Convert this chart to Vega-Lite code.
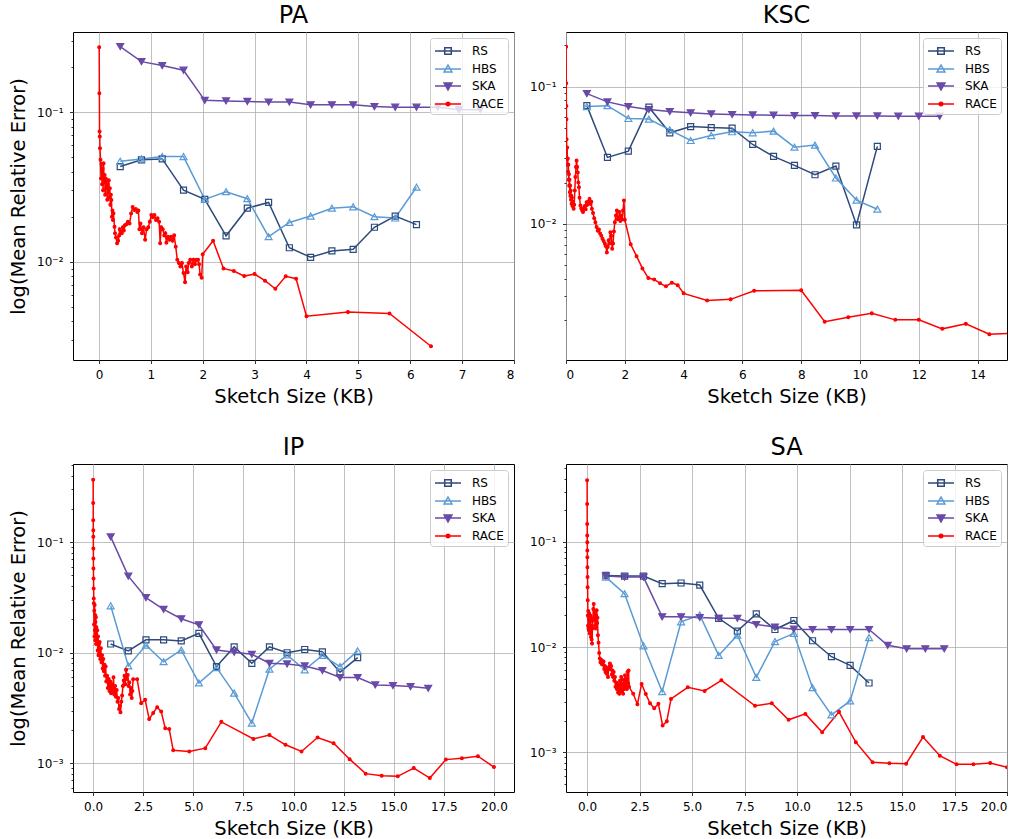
{
"$schema": "https://vega.github.io/schema/vega-lite/v6.json",
"background": "white",
"padding": {"left": 8, "top": 3, "right": 5, "bottom": 5},
"config": {
  "view": {"stroke": "black", "strokeWidth": 1},
  "font": "DejaVu Sans",
  "title": {"font": "DejaVu Sans", "fontSize": 24, "fontWeight": "normal", "color": "black", "baseline": "alphabetic", "offset": 4},
  "axis": {"labelFont": "DejaVu Sans", "labelFontSize": 12, "labelColor": "black", "titleFont": "DejaVu Sans", "titleFontSize": 19.5, "titleFontWeight": "normal", "titleColor": "black", "domain": false, "tickColor": "black", "tickWidth": 0.8, "tickSize": 3.5, "gridColor": "#b0b0b0", "gridWidth": 0.8, "grid": true},
  "axisX": {"labelPadding": 6, "titlePadding": 7},
  "axisY": {"labelPadding": 6.5, "titlePadding": 8},
  "legend": {"labelFont": "DejaVu Sans", "labelFontSize": 12, "labelColor": "black", "title": null, "orient": "none", "legendX": 357, "legendY": 6, "padding": 4, "fillColor": "rgba(255,255,255,0.8)", "strokeColor": "#cccccc", "cornerRadius": 3, "symbolSize": 256, "symbolStrokeWidth": 1.5, "symbolOpacity": 1, "rowPadding": 2, "labelOffset": 20}
},
"datasets": {"d": [
{"p":"PA","m":"RS","x":0.41,"y":0.0433},{"p":"PA","m":"RS","x":0.82,"y":0.048},{"p":"PA","m":"RS","x":1.22,"y":0.0487},{"p":"PA","m":"RS","x":1.63,"y":0.0301},{"p":"PA","m":"RS","x":2.04,"y":0.0261},{"p":"PA","m":"RS","x":2.45,"y":0.0149},{"p":"PA","m":"RS","x":2.86,"y":0.0228},{"p":"PA","m":"RS","x":3.27,"y":0.0249},{"p":"PA","m":"RS","x":3.67,"y":0.0124},{"p":"PA","m":"RS","x":4.08,"y":0.0107},{"p":"PA","m":"RS","x":4.49,"y":0.0118},{"p":"PA","m":"RS","x":4.90,"y":0.0121},{"p":"PA","m":"RS","x":5.31,"y":0.0170},{"p":"PA","m":"RS","x":5.71,"y":0.0202},{"p":"PA","m":"RS","x":6.12,"y":0.0177},
{"p":"PA","m":"HBS","x":0.41,"y":0.047},{"p":"PA","m":"HBS","x":0.82,"y":0.0487},{"p":"PA","m":"HBS","x":1.22,"y":0.0505},{"p":"PA","m":"HBS","x":1.63,"y":0.0505},{"p":"PA","m":"HBS","x":2.04,"y":0.0261},{"p":"PA","m":"HBS","x":2.45,"y":0.0294},{"p":"PA","m":"HBS","x":2.86,"y":0.0264},{"p":"PA","m":"HBS","x":3.27,"y":0.0147},{"p":"PA","m":"HBS","x":3.67,"y":0.0183},{"p":"PA","m":"HBS","x":4.08,"y":0.0202},{"p":"PA","m":"HBS","x":4.49,"y":0.0228},{"p":"PA","m":"HBS","x":4.90,"y":0.0233},{"p":"PA","m":"HBS","x":5.31,"y":0.0200},{"p":"PA","m":"HBS","x":5.71,"y":0.0196},{"p":"PA","m":"HBS","x":6.12,"y":0.0315},
{"p":"PA","m":"SKA","x":0.41,"y":0.275},{"p":"PA","m":"SKA","x":0.82,"y":0.218},{"p":"PA","m":"SKA","x":1.22,"y":0.205},{"p":"PA","m":"SKA","x":1.63,"y":0.191},{"p":"PA","m":"SKA","x":2.04,"y":0.120},{"p":"PA","m":"SKA","x":2.45,"y":0.119},{"p":"PA","m":"SKA","x":2.86,"y":0.118},{"p":"PA","m":"SKA","x":3.27,"y":0.117},{"p":"PA","m":"SKA","x":3.67,"y":0.117},{"p":"PA","m":"SKA","x":4.08,"y":0.112},{"p":"PA","m":"SKA","x":4.49,"y":0.112},{"p":"PA","m":"SKA","x":4.90,"y":0.112},{"p":"PA","m":"SKA","x":5.31,"y":0.109},{"p":"PA","m":"SKA","x":5.71,"y":0.108},{"p":"PA","m":"SKA","x":6.12,"y":0.108},{"p":"PA","m":"SKA","x":6.53,"y":0.108},{"p":"PA","m":"SKA","x":6.94,"y":0.104},{"p":"PA","m":"SKA","x":7.35,"y":0.104},
{"p":"PA","m":"RACE","x":0.005,"y":0.272},{"p":"PA","m":"RACE","x":0.008,"y":0.134},{"p":"PA","m":"RACE","x":0.012,"y":0.0743},{"p":"PA","m":"RACE","x":0.016,"y":0.0687},{"p":"PA","m":"RACE","x":0.02,"y":0.0574},{"p":"PA","m":"RACE","x":0.03,"y":0.048},{"p":"PA","m":"RACE","x":0.04,"y":0.036},{"p":"PA","m":"RACE","x":0.05,"y":0.045},{"p":"PA","m":"RACE","x":0.06,"y":0.033},{"p":"PA","m":"RACE","x":0.07,"y":0.042},{"p":"PA","m":"RACE","x":0.08,"y":0.030},{"p":"PA","m":"RACE","x":0.09,"y":0.0455},{"p":"PA","m":"RACE","x":0.10,"y":0.034},{"p":"PA","m":"RACE","x":0.11,"y":0.038},{"p":"PA","m":"RACE","x":0.12,"y":0.028},{"p":"PA","m":"RACE","x":0.13,"y":0.036},{"p":"PA","m":"RACE","x":0.14,"y":0.031},{"p":"PA","m":"RACE","x":0.15,"y":0.0352},{"p":"PA","m":"RACE","x":0.16,"y":0.026},{"p":"PA","m":"RACE","x":0.17,"y":0.033},{"p":"PA","m":"RACE","x":0.18,"y":0.029},{"p":"PA","m":"RACE","x":0.19,"y":0.035},{"p":"PA","m":"RACE","x":0.20,"y":0.027},{"p":"PA","m":"RACE","x":0.21,"y":0.031},{"p":"PA","m":"RACE","x":0.22,"y":0.024},{"p":"PA","m":"RACE","x":0.23,"y":0.028},{"p":"PA","m":"RACE","x":0.24,"y":0.0259},{"p":"PA","m":"RACE","x":0.25,"y":0.020},{"p":"PA","m":"RACE","x":0.26,"y":0.022},{"p":"PA","m":"RACE","x":0.27,"y":0.019},{"p":"PA","m":"RACE","x":0.28,"y":0.0211},{"p":"PA","m":"RACE","x":0.30,"y":0.0171},{"p":"PA","m":"RACE","x":0.31,"y":0.0155},{"p":"PA","m":"RACE","x":0.33,"y":0.0145},{"p":"PA","m":"RACE","x":0.35,"y":0.0133},{"p":"PA","m":"RACE","x":0.37,"y":0.0138},{"p":"PA","m":"RACE","x":0.39,"y":0.015},{"p":"PA","m":"RACE","x":0.40,"y":0.0165},{"p":"PA","m":"RACE","x":0.42,"y":0.016},{"p":"PA","m":"RACE","x":0.44,"y":0.0155},{"p":"PA","m":"RACE","x":0.46,"y":0.017},{"p":"PA","m":"RACE","x":0.48,"y":0.0162},{"p":"PA","m":"RACE","x":0.50,"y":0.0175},{"p":"PA","m":"RACE","x":0.53,"y":0.0178},{"p":"PA","m":"RACE","x":0.56,"y":0.0185},{"p":"PA","m":"RACE","x":0.59,"y":0.018},{"p":"PA","m":"RACE","x":0.62,"y":0.021},{"p":"PA","m":"RACE","x":0.65,"y":0.0232},{"p":"PA","m":"RACE","x":0.68,"y":0.0222},{"p":"PA","m":"RACE","x":0.71,"y":0.0225},{"p":"PA","m":"RACE","x":0.74,"y":0.0215},{"p":"PA","m":"RACE","x":0.76,"y":0.022},{"p":"PA","m":"RACE","x":0.78,"y":0.0165},{"p":"PA","m":"RACE","x":0.80,"y":0.018},{"p":"PA","m":"RACE","x":0.83,"y":0.0155},{"p":"PA","m":"RACE","x":0.86,"y":0.017},{"p":"PA","m":"RACE","x":0.89,"y":0.014},{"p":"PA","m":"RACE","x":0.92,"y":0.0165},{"p":"PA","m":"RACE","x":0.95,"y":0.017},{"p":"PA","m":"RACE","x":0.98,"y":0.0185},{"p":"PA","m":"RACE","x":1.01,"y":0.0205},{"p":"PA","m":"RACE","x":1.04,"y":0.0198},{"p":"PA","m":"RACE","x":1.07,"y":0.0205},{"p":"PA","m":"RACE","x":1.10,"y":0.019},{"p":"PA","m":"RACE","x":1.13,"y":0.0195},{"p":"PA","m":"RACE","x":1.16,"y":0.0185},{"p":"PA","m":"RACE","x":1.18,"y":0.0133},{"p":"PA","m":"RACE","x":1.20,"y":0.017},{"p":"PA","m":"RACE","x":1.23,"y":0.0165},{"p":"PA","m":"RACE","x":1.26,"y":0.015},{"p":"PA","m":"RACE","x":1.28,"y":0.0155},{"p":"PA","m":"RACE","x":1.30,"y":0.0134},{"p":"PA","m":"RACE","x":1.33,"y":0.0147},{"p":"PA","m":"RACE","x":1.36,"y":0.014},{"p":"PA","m":"RACE","x":1.39,"y":0.0147},{"p":"PA","m":"RACE","x":1.42,"y":0.0138},{"p":"PA","m":"RACE","x":1.45,"y":0.015},{"p":"PA","m":"RACE","x":1.48,"y":0.0126},{"p":"PA","m":"RACE","x":1.51,"y":0.0103},{"p":"PA","m":"RACE","x":1.54,"y":0.0098},{"p":"PA","m":"RACE","x":1.57,"y":0.0093},{"p":"PA","m":"RACE","x":1.60,"y":0.0098},{"p":"PA","m":"RACE","x":1.63,"y":0.0084},{"p":"PA","m":"RACE","x":1.66,"y":0.0073},{"p":"PA","m":"RACE","x":1.68,"y":0.0093},{"p":"PA","m":"RACE","x":1.71,"y":0.0085},{"p":"PA","m":"RACE","x":1.73,"y":0.0098},{"p":"PA","m":"RACE","x":1.76,"y":0.0103},{"p":"PA","m":"RACE","x":1.79,"y":0.0093},{"p":"PA","m":"RACE","x":1.82,"y":0.0103},{"p":"PA","m":"RACE","x":1.85,"y":0.0096},{"p":"PA","m":"RACE","x":1.88,"y":0.0103},{"p":"PA","m":"RACE","x":1.91,"y":0.0103},{"p":"PA","m":"RACE","x":1.93,"y":0.0096},{"p":"PA","m":"RACE","x":1.95,"y":0.0082},{"p":"PA","m":"RACE","x":1.98,"y":0.0078},{"p":"PA","m":"RACE","x":2.0,"y":0.0112},{"p":"PA","m":"RACE","x":2.2,"y":0.0138},{"p":"PA","m":"RACE","x":2.4,"y":0.00902},{"p":"PA","m":"RACE","x":2.6,"y":0.00866},{"p":"PA","m":"RACE","x":2.8,"y":0.00801},{"p":"PA","m":"RACE","x":3.0,"y":0.00827},{"p":"PA","m":"RACE","x":3.2,"y":0.00746},{"p":"PA","m":"RACE","x":3.4,"y":0.00659},{"p":"PA","m":"RACE","x":3.6,"y":0.00798},{"p":"PA","m":"RACE","x":3.8,"y":0.00769},{"p":"PA","m":"RACE","x":4.0,"y":0.00432},{"p":"PA","m":"RACE","x":4.8,"y":0.0046},{"p":"PA","m":"RACE","x":5.6,"y":0.00451},{"p":"PA","m":"RACE","x":6.4,"y":0.00272},
{"p":"KSC","m":"RS","x":0.71,"y":0.0727},{"p":"KSC","m":"RS","x":1.41,"y":0.0305},{"p":"KSC","m":"RS","x":2.12,"y":0.0339},{"p":"KSC","m":"RS","x":2.82,"y":0.0708},{"p":"KSC","m":"RS","x":3.53,"y":0.0461},{"p":"KSC","m":"RS","x":4.24,"y":0.0512},{"p":"KSC","m":"RS","x":4.94,"y":0.0503},{"p":"KSC","m":"RS","x":5.65,"y":0.0498},{"p":"KSC","m":"RS","x":6.35,"y":0.0379},{"p":"KSC","m":"RS","x":7.06,"y":0.0310},{"p":"KSC","m":"RS","x":7.77,"y":0.0267},{"p":"KSC","m":"RS","x":8.47,"y":0.0228},{"p":"KSC","m":"RS","x":9.18,"y":0.0264},{"p":"KSC","m":"RS","x":9.88,"y":0.00985},{"p":"KSC","m":"RS","x":10.59,"y":0.0367},
{"p":"KSC","m":"HBS","x":0.71,"y":0.0716},{"p":"KSC","m":"HBS","x":1.41,"y":0.0727},{"p":"KSC","m":"HBS","x":2.12,"y":0.0586},{"p":"KSC","m":"HBS","x":2.82,"y":0.058},{"p":"KSC","m":"HBS","x":3.53,"y":0.0484},{"p":"KSC","m":"HBS","x":4.24,"y":0.0405},{"p":"KSC","m":"HBS","x":4.94,"y":0.044},{"p":"KSC","m":"HBS","x":5.65,"y":0.0469},{"p":"KSC","m":"HBS","x":6.35,"y":0.0461},{"p":"KSC","m":"HBS","x":7.06,"y":0.0474},{"p":"KSC","m":"HBS","x":7.77,"y":0.0362},{"p":"KSC","m":"HBS","x":8.47,"y":0.0375},{"p":"KSC","m":"HBS","x":9.18,"y":0.0216},{"p":"KSC","m":"HBS","x":9.88,"y":0.0149},{"p":"KSC","m":"HBS","x":10.59,"y":0.0128},
{"p":"KSC","m":"SKA","x":0.71,"y":0.0889},{"p":"KSC","m":"SKA","x":1.41,"y":0.0774},{"p":"KSC","m":"SKA","x":2.12,"y":0.0716},{"p":"KSC","m":"SKA","x":2.82,"y":0.0681},{"p":"KSC","m":"SKA","x":3.53,"y":0.0658},{"p":"KSC","m":"SKA","x":4.24,"y":0.0644},{"p":"KSC","m":"SKA","x":4.94,"y":0.0633},{"p":"KSC","m":"SKA","x":5.65,"y":0.0626},{"p":"KSC","m":"SKA","x":6.35,"y":0.0622},{"p":"KSC","m":"SKA","x":7.06,"y":0.0619},{"p":"KSC","m":"SKA","x":7.77,"y":0.0615},{"p":"KSC","m":"SKA","x":8.47,"y":0.0615},{"p":"KSC","m":"SKA","x":9.18,"y":0.0612},{"p":"KSC","m":"SKA","x":9.88,"y":0.0612},{"p":"KSC","m":"SKA","x":10.59,"y":0.0612},{"p":"KSC","m":"SKA","x":11.30,"y":0.0609},{"p":"KSC","m":"SKA","x":12.0,"y":0.0609},{"p":"KSC","m":"SKA","x":12.71,"y":0.0609},
{"p":"KSC","m":"RACE","x":0.005,"y":0.195},{"p":"KSC","m":"RACE","x":0.008,"y":0.106},{"p":"KSC","m":"RACE","x":0.012,"y":0.0723},{"p":"KSC","m":"RACE","x":0.016,"y":0.0578},{"p":"KSC","m":"RACE","x":0.02,"y":0.0414},{"p":"KSC","m":"RACE","x":0.03,"y":0.0296},{"p":"KSC","m":"RACE","x":0.04,"y":0.036},{"p":"KSC","m":"RACE","x":0.05,"y":0.027},{"p":"KSC","m":"RACE","x":0.06,"y":0.030},{"p":"KSC","m":"RACE","x":0.07,"y":0.024},{"p":"KSC","m":"RACE","x":0.08,"y":0.027},{"p":"KSC","m":"RACE","x":0.09,"y":0.021},{"p":"KSC","m":"RACE","x":0.10,"y":0.023},{"p":"KSC","m":"RACE","x":0.11,"y":0.019},{"p":"KSC","m":"RACE","x":0.12,"y":0.021},{"p":"KSC","m":"RACE","x":0.13,"y":0.017},{"p":"KSC","m":"RACE","x":0.14,"y":0.019},{"p":"KSC","m":"RACE","x":0.15,"y":0.016},{"p":"KSC","m":"RACE","x":0.16,"y":0.0175},{"p":"KSC","m":"RACE","x":0.17,"y":0.015},{"p":"KSC","m":"RACE","x":0.18,"y":0.016},{"p":"KSC","m":"RACE","x":0.19,"y":0.014},{"p":"KSC","m":"RACE","x":0.20,"y":0.0155},{"p":"KSC","m":"RACE","x":0.22,"y":0.0135},{"p":"KSC","m":"RACE","x":0.24,"y":0.0145},{"p":"KSC","m":"RACE","x":0.26,"y":0.0129},{"p":"KSC","m":"RACE","x":0.28,"y":0.0138},{"p":"KSC","m":"RACE","x":0.30,"y":0.0175},{"p":"KSC","m":"RACE","x":0.32,"y":0.022},{"p":"KSC","m":"RACE","x":0.34,"y":0.026},{"p":"KSC","m":"RACE","x":0.36,"y":0.0289},{"p":"KSC","m":"RACE","x":0.38,"y":0.026},{"p":"KSC","m":"RACE","x":0.40,"y":0.0237},{"p":"KSC","m":"RACE","x":0.42,"y":0.020},{"p":"KSC","m":"RACE","x":0.44,"y":0.0185},{"p":"KSC","m":"RACE","x":0.46,"y":0.0155},{"p":"KSC","m":"RACE","x":0.49,"y":0.0136},{"p":"KSC","m":"RACE","x":0.52,"y":0.013},{"p":"KSC","m":"RACE","x":0.55,"y":0.0125},{"p":"KSC","m":"RACE","x":0.58,"y":0.0122},{"p":"KSC","m":"RACE","x":0.61,"y":0.013},{"p":"KSC","m":"RACE","x":0.64,"y":0.0135},{"p":"KSC","m":"RACE","x":0.67,"y":0.0128},{"p":"KSC","m":"RACE","x":0.70,"y":0.0144},{"p":"KSC","m":"RACE","x":0.73,"y":0.0138},{"p":"KSC","m":"RACE","x":0.76,"y":0.0145},{"p":"KSC","m":"RACE","x":0.80,"y":0.0152},{"p":"KSC","m":"RACE","x":0.83,"y":0.014},{"p":"KSC","m":"RACE","x":0.86,"y":0.0145},{"p":"KSC","m":"RACE","x":0.88,"y":0.0129},{"p":"KSC","m":"RACE","x":0.92,"y":0.012},{"p":"KSC","m":"RACE","x":0.96,"y":0.011},{"p":"KSC","m":"RACE","x":1.00,"y":0.0103},{"p":"KSC","m":"RACE","x":1.04,"y":0.0095},{"p":"KSC","m":"RACE","x":1.08,"y":0.0089},{"p":"KSC","m":"RACE","x":1.12,"y":0.0091},{"p":"KSC","m":"RACE","x":1.16,"y":0.0085},{"p":"KSC","m":"RACE","x":1.20,"y":0.0082},{"p":"KSC","m":"RACE","x":1.24,"y":0.0078},{"p":"KSC","m":"RACE","x":1.28,"y":0.0075},{"p":"KSC","m":"RACE","x":1.32,"y":0.0072},{"p":"KSC","m":"RACE","x":1.35,"y":0.0069},{"p":"KSC","m":"RACE","x":1.39,"y":0.0062},{"p":"KSC","m":"RACE","x":1.42,"y":0.0068},{"p":"KSC","m":"RACE","x":1.45,"y":0.0076},{"p":"KSC","m":"RACE","x":1.48,"y":0.0072},{"p":"KSC","m":"RACE","x":1.51,"y":0.0087},{"p":"KSC","m":"RACE","x":1.54,"y":0.0082},{"p":"KSC","m":"RACE","x":1.57,"y":0.0066},{"p":"KSC","m":"RACE","x":1.60,"y":0.0072},{"p":"KSC","m":"RACE","x":1.63,"y":0.0088},{"p":"KSC","m":"RACE","x":1.66,"y":0.0103},{"p":"KSC","m":"RACE","x":1.70,"y":0.0115},{"p":"KSC","m":"RACE","x":1.73,"y":0.0125},{"p":"KSC","m":"RACE","x":1.76,"y":0.0108},{"p":"KSC","m":"RACE","x":1.79,"y":0.011},{"p":"KSC","m":"RACE","x":1.82,"y":0.0122},{"p":"KSC","m":"RACE","x":1.85,"y":0.0105},{"p":"KSC","m":"RACE","x":1.88,"y":0.0115},{"p":"KSC","m":"RACE","x":1.91,"y":0.0108},{"p":"KSC","m":"RACE","x":1.94,"y":0.0125},{"p":"KSC","m":"RACE","x":1.97,"y":0.0148},{"p":"KSC","m":"RACE","x":2.0,"y":0.0107},{"p":"KSC","m":"RACE","x":2.2,"y":0.00711},{"p":"KSC","m":"RACE","x":2.4,"y":0.00582},{"p":"KSC","m":"RACE","x":2.6,"y":0.00474},{"p":"KSC","m":"RACE","x":2.8,"y":0.00403},{"p":"KSC","m":"RACE","x":3.0,"y":0.00394},{"p":"KSC","m":"RACE","x":3.2,"y":0.00369},{"p":"KSC","m":"RACE","x":3.4,"y":0.00351},{"p":"KSC","m":"RACE","x":3.6,"y":0.00373},{"p":"KSC","m":"RACE","x":3.8,"y":0.00358},{"p":"KSC","m":"RACE","x":4.0,"y":0.00312},{"p":"KSC","m":"RACE","x":4.8,"y":0.00277},{"p":"KSC","m":"RACE","x":5.6,"y":0.00282},{"p":"KSC","m":"RACE","x":6.4,"y":0.00326},{"p":"KSC","m":"RACE","x":8.0,"y":0.00328},{"p":"KSC","m":"RACE","x":8.8,"y":0.00194},{"p":"KSC","m":"RACE","x":9.6,"y":0.00209},{"p":"KSC","m":"RACE","x":10.4,"y":0.00223},{"p":"KSC","m":"RACE","x":11.2,"y":0.002},{"p":"KSC","m":"RACE","x":12.0,"y":0.002},{"p":"KSC","m":"RACE","x":12.8,"y":0.00172},{"p":"KSC","m":"RACE","x":13.6,"y":0.00187},{"p":"KSC","m":"RACE","x":14.4,"y":0.00157},{"p":"KSC","m":"RACE","x":15.2,"y":0.0016},
{"p":"IP","m":"RS","x":0.88,"y":0.0120},{"p":"IP","m":"RS","x":1.76,"y":0.0104},{"p":"IP","m":"RS","x":2.64,"y":0.0131},{"p":"IP","m":"RS","x":3.52,"y":0.0131},{"p":"IP","m":"RS","x":4.40,"y":0.0128},{"p":"IP","m":"RS","x":5.28,"y":0.0150},{"p":"IP","m":"RS","x":6.16,"y":0.0075},{"p":"IP","m":"RS","x":7.04,"y":0.0113},{"p":"IP","m":"RS","x":7.92,"y":0.00803},{"p":"IP","m":"RS","x":8.80,"y":0.0113},{"p":"IP","m":"RS","x":9.68,"y":0.0100},{"p":"IP","m":"RS","x":10.56,"y":0.0107},{"p":"IP","m":"RS","x":11.44,"y":0.0102},{"p":"IP","m":"RS","x":12.32,"y":0.00667},{"p":"IP","m":"RS","x":13.20,"y":0.00904},
{"p":"IP","m":"HBS","x":0.88,"y":0.0266},{"p":"IP","m":"HBS","x":1.76,"y":0.0076},{"p":"IP","m":"HBS","x":2.64,"y":0.0117},{"p":"IP","m":"HBS","x":3.52,"y":0.0083},{"p":"IP","m":"HBS","x":4.40,"y":0.0106},{"p":"IP","m":"HBS","x":5.28,"y":0.00533},{"p":"IP","m":"HBS","x":6.16,"y":0.00734},{"p":"IP","m":"HBS","x":7.04,"y":0.00431},{"p":"IP","m":"HBS","x":7.92,"y":0.00231},{"p":"IP","m":"HBS","x":8.80,"y":0.0071},{"p":"IP","m":"HBS","x":9.68,"y":0.00955},{"p":"IP","m":"HBS","x":10.56,"y":0.0070},{"p":"IP","m":"HBS","x":11.44,"y":0.00948},{"p":"IP","m":"HBS","x":12.32,"y":0.0075},{"p":"IP","m":"HBS","x":13.20,"y":0.0104},
{"p":"IP","m":"SKA","x":0.88,"y":0.1117},{"p":"IP","m":"SKA","x":1.76,"y":0.0493},{"p":"IP","m":"SKA","x":2.64,"y":0.0315},{"p":"IP","m":"SKA","x":3.52,"y":0.0247},{"p":"IP","m":"SKA","x":4.40,"y":0.0203},{"p":"IP","m":"SKA","x":5.28,"y":0.0179},{"p":"IP","m":"SKA","x":6.16,"y":0.0106},{"p":"IP","m":"SKA","x":7.04,"y":0.0101},{"p":"IP","m":"SKA","x":7.92,"y":0.00968},{"p":"IP","m":"SKA","x":8.80,"y":0.00803},{"p":"IP","m":"SKA","x":9.68,"y":0.00792},{"p":"IP","m":"SKA","x":10.56,"y":0.0076},{"p":"IP","m":"SKA","x":11.44,"y":0.0069},{"p":"IP","m":"SKA","x":12.32,"y":0.00597},{"p":"IP","m":"SKA","x":13.20,"y":0.00597},{"p":"IP","m":"SKA","x":14.08,"y":0.00512},{"p":"IP","m":"SKA","x":14.96,"y":0.00505},{"p":"IP","m":"SKA","x":15.84,"y":0.00494},{"p":"IP","m":"SKA","x":16.72,"y":0.00477},
{"p":"IP","m":"RACE","x":0.005,"y":0.368},{"p":"IP","m":"RACE","x":0.008,"y":0.226},{"p":"IP","m":"RACE","x":0.010,"y":0.158},{"p":"IP","m":"RACE","x":0.012,"y":0.128},{"p":"IP","m":"RACE","x":0.014,"y":0.112},{"p":"IP","m":"RACE","x":0.016,"y":0.0877},{"p":"IP","m":"RACE","x":0.018,"y":0.0713},{"p":"IP","m":"RACE","x":0.02,"y":0.0578},{"p":"IP","m":"RACE","x":0.025,"y":0.047},{"p":"IP","m":"RACE","x":0.03,"y":0.0382},{"p":"IP","m":"RACE","x":0.035,"y":0.031},{"p":"IP","m":"RACE","x":0.04,"y":0.028},{"p":"IP","m":"RACE","x":0.05,"y":0.018},{"p":"IP","m":"RACE","x":0.06,"y":0.024},{"p":"IP","m":"RACE","x":0.07,"y":0.014},{"p":"IP","m":"RACE","x":0.08,"y":0.027},{"p":"IP","m":"RACE","x":0.09,"y":0.016},{"p":"IP","m":"RACE","x":0.10,"y":0.022},{"p":"IP","m":"RACE","x":0.11,"y":0.013},{"p":"IP","m":"RACE","x":0.12,"y":0.019},{"p":"IP","m":"RACE","x":0.13,"y":0.015},{"p":"IP","m":"RACE","x":0.14,"y":0.021},{"p":"IP","m":"RACE","x":0.15,"y":0.012},{"p":"IP","m":"RACE","x":0.17,"y":0.017},{"p":"IP","m":"RACE","x":0.19,"y":0.013},{"p":"IP","m":"RACE","x":0.21,"y":0.016},{"p":"IP","m":"RACE","x":0.23,"y":0.0105},{"p":"IP","m":"RACE","x":0.25,"y":0.014},{"p":"IP","m":"RACE","x":0.27,"y":0.0095},{"p":"IP","m":"RACE","x":0.29,"y":0.012},{"p":"IP","m":"RACE","x":0.31,"y":0.0098},{"p":"IP","m":"RACE","x":0.33,"y":0.0125},{"p":"IP","m":"RACE","x":0.36,"y":0.0088},{"p":"IP","m":"RACE","x":0.39,"y":0.011},{"p":"IP","m":"RACE","x":0.42,"y":0.0082},{"p":"IP","m":"RACE","x":0.45,"y":0.0095},{"p":"IP","m":"RACE","x":0.48,"y":0.0072},{"p":"IP","m":"RACE","x":0.51,"y":0.0088},{"p":"IP","m":"RACE","x":0.54,"y":0.0068},{"p":"IP","m":"RACE","x":0.57,"y":0.0078},{"p":"IP","m":"RACE","x":0.60,"y":0.0062},{"p":"IP","m":"RACE","x":0.63,"y":0.0075},{"p":"IP","m":"RACE","x":0.66,"y":0.0055},{"p":"IP","m":"RACE","x":0.70,"y":0.0062},{"p":"IP","m":"RACE","x":0.74,"y":0.0048},{"p":"IP","m":"RACE","x":0.78,"y":0.0058},{"p":"IP","m":"RACE","x":0.82,"y":0.0045},{"p":"IP","m":"RACE","x":0.86,"y":0.0055},{"p":"IP","m":"RACE","x":0.90,"y":0.0043},{"p":"IP","m":"RACE","x":0.94,"y":0.0052},{"p":"IP","m":"RACE","x":0.98,"y":0.0045},{"p":"IP","m":"RACE","x":1.02,"y":0.0060},{"p":"IP","m":"RACE","x":1.06,"y":0.0042},{"p":"IP","m":"RACE","x":1.10,"y":0.0050},{"p":"IP","m":"RACE","x":1.14,"y":0.0040},{"p":"IP","m":"RACE","x":1.18,"y":0.0046},{"p":"IP","m":"RACE","x":1.22,"y":0.0036},{"p":"IP","m":"RACE","x":1.26,"y":0.0039},{"p":"IP","m":"RACE","x":1.30,"y":0.0031},{"p":"IP","m":"RACE","x":1.34,"y":0.0033},{"p":"IP","m":"RACE","x":1.37,"y":0.0029},{"p":"IP","m":"RACE","x":1.41,"y":0.0036},{"p":"IP","m":"RACE","x":1.45,"y":0.0041},{"p":"IP","m":"RACE","x":1.49,"y":0.0050},{"p":"IP","m":"RACE","x":1.53,"y":0.0056},{"p":"IP","m":"RACE","x":1.57,"y":0.0062},{"p":"IP","m":"RACE","x":1.61,"y":0.0052},{"p":"IP","m":"RACE","x":1.65,"y":0.0070},{"p":"IP","m":"RACE","x":1.69,"y":0.0058},{"p":"IP","m":"RACE","x":1.73,"y":0.0063},{"p":"IP","m":"RACE","x":1.77,"y":0.0050},{"p":"IP","m":"RACE","x":1.81,"y":0.0054},{"p":"IP","m":"RACE","x":1.85,"y":0.0042},{"p":"IP","m":"RACE","x":1.89,"y":0.0048},{"p":"IP","m":"RACE","x":1.93,"y":0.0039},{"p":"IP","m":"RACE","x":1.96,"y":0.0045},{"p":"IP","m":"RACE","x":2.0,"y":0.00577},{"p":"IP","m":"RACE","x":2.2,"y":0.00577},{"p":"IP","m":"RACE","x":2.4,"y":0.0035},{"p":"IP","m":"RACE","x":2.6,"y":0.00375},{"p":"IP","m":"RACE","x":2.8,"y":0.00251},{"p":"IP","m":"RACE","x":3.0,"y":0.00285},{"p":"IP","m":"RACE","x":3.2,"y":0.00322},{"p":"IP","m":"RACE","x":3.4,"y":0.00294},{"p":"IP","m":"RACE","x":3.6,"y":0.00208},{"p":"IP","m":"RACE","x":3.8,"y":0.00204},{"p":"IP","m":"RACE","x":4.0,"y":0.00131},{"p":"IP","m":"RACE","x":4.8,"y":0.00128},{"p":"IP","m":"RACE","x":5.6,"y":0.00137},{"p":"IP","m":"RACE","x":6.4,"y":0.00237},{"p":"IP","m":"RACE","x":8.0,"y":0.00166},{"p":"IP","m":"RACE","x":8.8,"y":0.0018},{"p":"IP","m":"RACE","x":9.6,"y":0.00147},{"p":"IP","m":"RACE","x":10.4,"y":0.00128},{"p":"IP","m":"RACE","x":11.2,"y":0.00171},{"p":"IP","m":"RACE","x":12.0,"y":0.00152},{"p":"IP","m":"RACE","x":12.8,"y":0.00109},{"p":"IP","m":"RACE","x":13.6,"y":0.000806},{"p":"IP","m":"RACE","x":14.4,"y":0.000773},{"p":"IP","m":"RACE","x":15.2,"y":0.000762},{"p":"IP","m":"RACE","x":16.0,"y":0.000906},{"p":"IP","m":"RACE","x":16.8,"y":0.000736},{"p":"IP","m":"RACE","x":17.6,"y":0.00108},{"p":"IP","m":"RACE","x":18.4,"y":0.00111},{"p":"IP","m":"RACE","x":19.2,"y":0.00116},{"p":"IP","m":"RACE","x":20.0,"y":0.000925},
{"p":"SA","m":"RS","x":0.90,"y":0.0480},{"p":"SA","m":"RS","x":1.79,"y":0.0473},{"p":"SA","m":"RS","x":2.69,"y":0.0473},{"p":"SA","m":"RS","x":3.58,"y":0.0401},{"p":"SA","m":"RS","x":4.48,"y":0.0407},{"p":"SA","m":"RS","x":5.37,"y":0.0389},{"p":"SA","m":"RS","x":6.27,"y":0.0188},{"p":"SA","m":"RS","x":7.16,"y":0.0142},{"p":"SA","m":"RS","x":8.06,"y":0.0207},{"p":"SA","m":"RS","x":8.95,"y":0.0147},{"p":"SA","m":"RS","x":9.85,"y":0.0179},{"p":"SA","m":"RS","x":10.74,"y":0.0115},{"p":"SA","m":"RS","x":11.64,"y":0.00811},{"p":"SA","m":"RS","x":12.53,"y":0.0067},{"p":"SA","m":"RS","x":13.43,"y":0.00456},
{"p":"SA","m":"HBS","x":0.90,"y":0.0463},{"p":"SA","m":"HBS","x":1.79,"y":0.0322},{"p":"SA","m":"HBS","x":2.69,"y":0.0103},{"p":"SA","m":"HBS","x":3.58,"y":0.00378},{"p":"SA","m":"HBS","x":4.48,"y":0.0174},{"p":"SA","m":"HBS","x":5.37,"y":0.0202},{"p":"SA","m":"HBS","x":6.27,"y":0.00834},{"p":"SA","m":"HBS","x":7.16,"y":0.0130},{"p":"SA","m":"HBS","x":8.06,"y":0.00516},{"p":"SA","m":"HBS","x":8.95,"y":0.0113},{"p":"SA","m":"HBS","x":9.85,"y":0.0135},{"p":"SA","m":"HBS","x":10.74,"y":0.00412},{"p":"SA","m":"HBS","x":11.64,"y":0.00227},{"p":"SA","m":"HBS","x":12.53,"y":0.00308},{"p":"SA","m":"HBS","x":13.43,"y":0.0123},
{"p":"SA","m":"SKA","x":0.90,"y":0.0473},{"p":"SA","m":"SKA","x":1.79,"y":0.0463},{"p":"SA","m":"SKA","x":2.69,"y":0.0463},{"p":"SA","m":"SKA","x":3.58,"y":0.0194},{"p":"SA","m":"SKA","x":4.48,"y":0.0194},{"p":"SA","m":"SKA","x":5.37,"y":0.0191},{"p":"SA","m":"SKA","x":6.27,"y":0.0188},{"p":"SA","m":"SKA","x":7.16,"y":0.0188},{"p":"SA","m":"SKA","x":8.06,"y":0.0164},{"p":"SA","m":"SKA","x":8.95,"y":0.0155},{"p":"SA","m":"SKA","x":9.85,"y":0.0148},{"p":"SA","m":"SKA","x":10.74,"y":0.0147},{"p":"SA","m":"SKA","x":11.64,"y":0.0147},{"p":"SA","m":"SKA","x":12.53,"y":0.0147},{"p":"SA","m":"SKA","x":13.43,"y":0.0147},{"p":"SA","m":"SKA","x":14.32,"y":0.0104},{"p":"SA","m":"SKA","x":15.22,"y":0.00964},{"p":"SA","m":"SKA","x":16.11,"y":0.00964},{"p":"SA","m":"SKA","x":17.01,"y":0.00964},
{"p":"SA","m":"RACE","x":0.005,"y":0.385},{"p":"SA","m":"RACE","x":0.008,"y":0.229},{"p":"SA","m":"RACE","x":0.010,"y":0.148},{"p":"SA","m":"RACE","x":0.012,"y":0.115},{"p":"SA","m":"RACE","x":0.014,"y":0.0993},{"p":"SA","m":"RACE","x":0.016,"y":0.083},{"p":"SA","m":"RACE","x":0.018,"y":0.0716},{"p":"SA","m":"RACE","x":0.02,"y":0.0575},{"p":"SA","m":"RACE","x":0.025,"y":0.0463},{"p":"SA","m":"RACE","x":0.03,"y":0.0371},{"p":"SA","m":"RACE","x":0.035,"y":0.0279},{"p":"SA","m":"RACE","x":0.04,"y":0.020},{"p":"SA","m":"RACE","x":0.05,"y":0.016},{"p":"SA","m":"RACE","x":0.06,"y":0.022},{"p":"SA","m":"RACE","x":0.07,"y":0.015},{"p":"SA","m":"RACE","x":0.08,"y":0.019},{"p":"SA","m":"RACE","x":0.09,"y":0.0145},{"p":"SA","m":"RACE","x":0.10,"y":0.021},{"p":"SA","m":"RACE","x":0.11,"y":0.016},{"p":"SA","m":"RACE","x":0.12,"y":0.018},{"p":"SA","m":"RACE","x":0.13,"y":0.0135},{"p":"SA","m":"RACE","x":0.14,"y":0.0175},{"p":"SA","m":"RACE","x":0.15,"y":0.016},{"p":"SA","m":"RACE","x":0.16,"y":0.020},{"p":"SA","m":"RACE","x":0.17,"y":0.014},{"p":"SA","m":"RACE","x":0.18,"y":0.019},{"p":"SA","m":"RACE","x":0.19,"y":0.0125},{"p":"SA","m":"RACE","x":0.20,"y":0.016},{"p":"SA","m":"RACE","x":0.22,"y":0.0118},{"p":"SA","m":"RACE","x":0.24,"y":0.0108},{"p":"SA","m":"RACE","x":0.26,"y":0.015},{"p":"SA","m":"RACE","x":0.28,"y":0.018},{"p":"SA","m":"RACE","x":0.30,"y":0.023},{"p":"SA","m":"RACE","x":0.32,"y":0.0257},{"p":"SA","m":"RACE","x":0.34,"y":0.019},{"p":"SA","m":"RACE","x":0.36,"y":0.022},{"p":"SA","m":"RACE","x":0.38,"y":0.016},{"p":"SA","m":"RACE","x":0.40,"y":0.021},{"p":"SA","m":"RACE","x":0.42,"y":0.015},{"p":"SA","m":"RACE","x":0.44,"y":0.020},{"p":"SA","m":"RACE","x":0.46,"y":0.0224},{"p":"SA","m":"RACE","x":0.48,"y":0.017},{"p":"SA","m":"RACE","x":0.50,"y":0.019},{"p":"SA","m":"RACE","x":0.52,"y":0.013},{"p":"SA","m":"RACE","x":0.55,"y":0.011},{"p":"SA","m":"RACE","x":0.58,"y":0.0088},{"p":"SA","m":"RACE","x":0.61,"y":0.0078},{"p":"SA","m":"RACE","x":0.64,"y":0.0072},{"p":"SA","m":"RACE","x":0.67,"y":0.0076},{"p":"SA","m":"RACE","x":0.70,"y":0.0069},{"p":"SA","m":"RACE","x":0.73,"y":0.0074},{"p":"SA","m":"RACE","x":0.76,"y":0.0068},{"p":"SA","m":"RACE","x":0.79,"y":0.0073},{"p":"SA","m":"RACE","x":0.82,"y":0.0062},{"p":"SA","m":"RACE","x":0.85,"y":0.0066},{"p":"SA","m":"RACE","x":0.88,"y":0.0058},{"p":"SA","m":"RACE","x":0.91,"y":0.0064},{"p":"SA","m":"RACE","x":0.94,"y":0.0056},{"p":"SA","m":"RACE","x":0.97,"y":0.006},{"p":"SA","m":"RACE","x":1.00,"y":0.0052},{"p":"SA","m":"RACE","x":1.03,"y":0.0062},{"p":"SA","m":"RACE","x":1.06,"y":0.0065},{"p":"SA","m":"RACE","x":1.09,"y":0.0070},{"p":"SA","m":"RACE","x":1.12,"y":0.0062},{"p":"SA","m":"RACE","x":1.15,"y":0.0066},{"p":"SA","m":"RACE","x":1.18,"y":0.0055},{"p":"SA","m":"RACE","x":1.21,"y":0.0060},{"p":"SA","m":"RACE","x":1.24,"y":0.0052},{"p":"SA","m":"RACE","x":1.27,"y":0.0058},{"p":"SA","m":"RACE","x":1.30,"y":0.0048},{"p":"SA","m":"RACE","x":1.33,"y":0.0052},{"p":"SA","m":"RACE","x":1.36,"y":0.0042},{"p":"SA","m":"RACE","x":1.39,"y":0.0046},{"p":"SA","m":"RACE","x":1.42,"y":0.0040},{"p":"SA","m":"RACE","x":1.45,"y":0.0045},{"p":"SA","m":"RACE","x":1.48,"y":0.0037},{"p":"SA","m":"RACE","x":1.51,"y":0.0043},{"p":"SA","m":"RACE","x":1.54,"y":0.0036},{"p":"SA","m":"RACE","x":1.57,"y":0.0048},{"p":"SA","m":"RACE","x":1.60,"y":0.0039},{"p":"SA","m":"RACE","x":1.63,"y":0.0052},{"p":"SA","m":"RACE","x":1.66,"y":0.0038},{"p":"SA","m":"RACE","x":1.69,"y":0.0045},{"p":"SA","m":"RACE","x":1.72,"y":0.0036},{"p":"SA","m":"RACE","x":1.75,"y":0.0049},{"p":"SA","m":"RACE","x":1.78,"y":0.0040},{"p":"SA","m":"RACE","x":1.81,"y":0.0054},{"p":"SA","m":"RACE","x":1.84,"y":0.0042},{"p":"SA","m":"RACE","x":1.87,"y":0.0050},{"p":"SA","m":"RACE","x":1.90,"y":0.0040},{"p":"SA","m":"RACE","x":1.93,"y":0.0058},{"p":"SA","m":"RACE","x":1.96,"y":0.0045},{"p":"SA","m":"RACE","x":1.98,"y":0.0060},{"p":"SA","m":"RACE","x":2.0,"y":0.0042},{"p":"SA","m":"RACE","x":2.2,"y":0.0036},{"p":"SA","m":"RACE","x":2.4,"y":0.00287},{"p":"SA","m":"RACE","x":2.6,"y":0.00447},{"p":"SA","m":"RACE","x":2.8,"y":0.00359},{"p":"SA","m":"RACE","x":3.0,"y":0.00293},{"p":"SA","m":"RACE","x":3.2,"y":0.00263},{"p":"SA","m":"RACE","x":3.4,"y":0.00289},{"p":"SA","m":"RACE","x":3.6,"y":0.0018},{"p":"SA","m":"RACE","x":3.8,"y":0.00197},{"p":"SA","m":"RACE","x":4.0,"y":0.00322},{"p":"SA","m":"RACE","x":4.8,"y":0.00415},{"p":"SA","m":"RACE","x":5.6,"y":0.00383},{"p":"SA","m":"RACE","x":6.4,"y":0.00484},{"p":"SA","m":"RACE","x":8.0,"y":0.00277},{"p":"SA","m":"RACE","x":8.8,"y":0.00293},{"p":"SA","m":"RACE","x":9.6,"y":0.00204},{"p":"SA","m":"RACE","x":10.4,"y":0.00232},{"p":"SA","m":"RACE","x":11.2,"y":0.00155},{"p":"SA","m":"RACE","x":12.0,"y":0.00243},{"p":"SA","m":"RACE","x":12.8,"y":0.00125},{"p":"SA","m":"RACE","x":13.6,"y":0.000804},{"p":"SA","m":"RACE","x":14.4,"y":0.000786},{"p":"SA","m":"RACE","x":15.2,"y":0.000781},{"p":"SA","m":"RACE","x":16.0,"y":0.0014},{"p":"SA","m":"RACE","x":16.8,"y":0.000929},{"p":"SA","m":"RACE","x":17.6,"y":0.000769},{"p":"SA","m":"RACE","x":18.4,"y":0.000769},{"p":"SA","m":"RACE","x":19.2,"y":0.000792},{"p":"SA","m":"RACE","x":20.0,"y":0.000721}
]},
"columns": 2,
"spacing": {"row": 104, "column": 52},
"bounds": "flush",
"resolve": {"scale": {"color": "independent", "shape": "independent"}, "legend": {"color": "independent", "shape": "independent"}},
"concat": [
{
 "width": 441, "height": 328,
 "title": "PA",
 "data": {"name": "d"},
 "transform": [{"filter": "datum.p === 'PA'"}],
 "encoding": {
  "x": {"field": "x", "type": "quantitative", "scale": {"domain": [-0.5, 8], "nice": false, "zero": false}, "axis": {"values": [0,1,2,3,4,5,6,7,8], "title": "Sketch Size (KB)"}},
  "y": {"field": "y", "type": "quantitative", "scale": {"type": "log", "domain": [0.0022, 0.344], "nice": false}, "axis": {"title": "log(Mean Relative Error)", "values": [0.003,0.004,0.005,0.006,0.007,0.008,0.009,0.01,0.02,0.03,0.04,0.05,0.06,0.07,0.08,0.09,0.1,0.2,0.3], "labelExpr": "datum.value === 0.1 ? '10⁻¹' : datum.value === 0.01 ? '10⁻²' : datum.value === 0.001 ? '10⁻³' : ''", "tickSize": {"condition": {"test": "datum.value === 0.1 || datum.value === 0.01 || datum.value === 0.001", "value": 3.5}, "value": 2}, "gridOpacity": {"condition": {"test": "datum.value === 0.1 || datum.value === 0.01 || datum.value === 0.001", "value": 1}, "value": 0}}}
 },
 "layer": [
  {"mark": {"type": "line", "strokeWidth": 1.5, "clip": true}, "encoding": {"detail": {"field": "m"}, "color": {"condition": [{"test": "datum.m === 'RS'", "value": "#2c4a7c"}, {"test": "datum.m === 'HBS'", "value": "#5b9bd5"}, {"test": "datum.m === 'SKA'", "value": "#6a4aa8"}], "value": "#ff0000"}}},
  {"mark": {"type": "point", "clip": true, "opacity": 1, "strokeWidth": 1.2, "filled": false}, "encoding": {"shape": {"condition": [{"test": "datum.m === 'RS'", "value": "square"}, {"test": "datum.m === 'HBS'", "value": "triangle-up"}, {"test": "datum.m === 'SKA'", "value": "triangle-down"}], "value": "circle"}, "size": {"condition": [{"test": "datum.m === 'RACE'", "value": 8}, {"test": "datum.m === 'RS'", "value": 36}], "value": 48}, "color": {"condition": [{"test": "datum.m === 'RS'", "value": "#2c4a7c"}, {"test": "datum.m === 'HBS'", "value": "#5b9bd5"}, {"test": "datum.m === 'SKA'", "value": "#6a4aa8"}], "value": "#ff0000"}, "fill": {"condition": [{"test": "datum.m === 'SKA'", "value": "#6a4aa8"}, {"test": "datum.m === 'RACE'", "value": "#ff0000"}], "value": "transparent"}}},
  {"transform": [{"filter": "datum.p === 'none'"}], "mark": {"type": "point", "filled": false, "opacity": 1, "strokeWidth": 1.5}, "encoding": {
    "color": {"field": "m", "type": "nominal", "scale": {"domain": ["RS","HBS","SKA","RACE"], "range": ["#2c4a7c","#5b9bd5","#6a4aa8","#ff0000"]}, "legend": {"title": null}},
    "shape": {"field": "m", "type": "nominal", "scale": {"domain": ["RS","HBS","SKA","RACE"], "range": ["M-1,0H2.25M0.215,-0.41H1.035V0.41H0.215Z","M-1,0H2.25M0.625,-0.49L1.115,0.36H0.135Z","M-1,0H2.25M0.135,-0.36H1.115L0.625,0.49ZM0.335,-0.23H0.915L0.625,0.26ZM0.515,-0.13H0.735L0.625,0.05Z","M-1,0H2.25M0.855,0A0.23,0.23,0,1,1,0.395,0A0.23,0.23,0,1,1,0.855,0ZM0.705,0A0.08,0.08,0,1,1,0.545,0A0.08,0.08,0,1,1,0.705,0Z"]}, "legend": {"title": null}}
  }}
 ]
},
{
 "width": 441, "height": 328,
 "title": "KSC",
 "data": {"name": "d"},
 "transform": [{"filter": "datum.p === 'KSC'"}],
 "encoding": {
  "x": {"field": "x", "type": "quantitative", "scale": {"domain": [0, 15], "nice": false, "zero": false}, "axis": {"values": [0,2,4,6,8,10,12,14], "title": "Sketch Size (KB)"}},
  "y": {"field": "y", "type": "quantitative", "scale": {"type": "log", "domain": [0.00102, 0.25], "nice": false}, "axis": {"title": null, "values": [0.002,0.003,0.004,0.005,0.006,0.007,0.008,0.009,0.01,0.02,0.03,0.04,0.05,0.06,0.07,0.08,0.09,0.1,0.2], "labelExpr": "datum.value === 0.1 ? '10⁻¹' : datum.value === 0.01 ? '10⁻²' : datum.value === 0.001 ? '10⁻³' : ''", "tickSize": {"condition": {"test": "datum.value === 0.1 || datum.value === 0.01 || datum.value === 0.001", "value": 3.5}, "value": 2}, "gridOpacity": {"condition": {"test": "datum.value === 0.1 || datum.value === 0.01 || datum.value === 0.001", "value": 1}, "value": 0}}}
 },
 "layer": [
  {"mark": {"type": "line", "strokeWidth": 1.5, "clip": true}, "encoding": {"detail": {"field": "m"}, "color": {"condition": [{"test": "datum.m === 'RS'", "value": "#2c4a7c"}, {"test": "datum.m === 'HBS'", "value": "#5b9bd5"}, {"test": "datum.m === 'SKA'", "value": "#6a4aa8"}], "value": "#ff0000"}}},
  {"mark": {"type": "point", "clip": true, "opacity": 1, "strokeWidth": 1.2, "filled": false}, "encoding": {"shape": {"condition": [{"test": "datum.m === 'RS'", "value": "square"}, {"test": "datum.m === 'HBS'", "value": "triangle-up"}, {"test": "datum.m === 'SKA'", "value": "triangle-down"}], "value": "circle"}, "size": {"condition": [{"test": "datum.m === 'RACE'", "value": 8}, {"test": "datum.m === 'RS'", "value": 36}], "value": 48}, "color": {"condition": [{"test": "datum.m === 'RS'", "value": "#2c4a7c"}, {"test": "datum.m === 'HBS'", "value": "#5b9bd5"}, {"test": "datum.m === 'SKA'", "value": "#6a4aa8"}], "value": "#ff0000"}, "fill": {"condition": [{"test": "datum.m === 'SKA'", "value": "#6a4aa8"}, {"test": "datum.m === 'RACE'", "value": "#ff0000"}], "value": "transparent"}}},
  {"transform": [{"filter": "datum.p === 'none'"}], "mark": {"type": "point", "filled": false, "opacity": 1, "strokeWidth": 1.5}, "encoding": {
    "color": {"field": "m", "type": "nominal", "scale": {"domain": ["RS","HBS","SKA","RACE"], "range": ["#2c4a7c","#5b9bd5","#6a4aa8","#ff0000"]}, "legend": {"title": null}},
    "shape": {"field": "m", "type": "nominal", "scale": {"domain": ["RS","HBS","SKA","RACE"], "range": ["M-1,0H2.25M0.215,-0.41H1.035V0.41H0.215Z","M-1,0H2.25M0.625,-0.49L1.115,0.36H0.135Z","M-1,0H2.25M0.135,-0.36H1.115L0.625,0.49ZM0.335,-0.23H0.915L0.625,0.26ZM0.515,-0.13H0.735L0.625,0.05Z","M-1,0H2.25M0.855,0A0.23,0.23,0,1,1,0.395,0A0.23,0.23,0,1,1,0.855,0ZM0.705,0A0.08,0.08,0,1,1,0.545,0A0.08,0.08,0,1,1,0.705,0Z"]}, "legend": {"title": null}}
  }}
 ]
},
{
 "width": 441, "height": 328,
 "title": "IP",
 "data": {"name": "d"},
 "transform": [{"filter": "datum.p === 'IP'"}],
 "encoding": {
  "x": {"field": "x", "type": "quantitative", "scale": {"domain": [-1, 21], "nice": false, "zero": false}, "axis": {"values": [0,2.5,5,7.5,10,12.5,15,17.5,20], "format": ".1f", "title": "Sketch Size (KB)"}},
  "y": {"field": "y", "type": "quantitative", "scale": {"type": "log", "domain": [0.00055, 0.51], "nice": false}, "axis": {"title": "log(Mean Relative Error)", "values": [0.0006,0.0007,0.0008,0.0009,0.001,0.002,0.003,0.004,0.005,0.006,0.007,0.008,0.009,0.01,0.02,0.03,0.04,0.05,0.06,0.07,0.08,0.09,0.1,0.2,0.3,0.4,0.5], "labelExpr": "datum.value === 0.1 ? '10⁻¹' : datum.value === 0.01 ? '10⁻²' : datum.value === 0.001 ? '10⁻³' : ''", "tickSize": {"condition": {"test": "datum.value === 0.1 || datum.value === 0.01 || datum.value === 0.001", "value": 3.5}, "value": 2}, "gridOpacity": {"condition": {"test": "datum.value === 0.1 || datum.value === 0.01 || datum.value === 0.001", "value": 1}, "value": 0}}}
 },
 "layer": [
  {"mark": {"type": "line", "strokeWidth": 1.5, "clip": true}, "encoding": {"detail": {"field": "m"}, "color": {"condition": [{"test": "datum.m === 'RS'", "value": "#2c4a7c"}, {"test": "datum.m === 'HBS'", "value": "#5b9bd5"}, {"test": "datum.m === 'SKA'", "value": "#6a4aa8"}], "value": "#ff0000"}}},
  {"mark": {"type": "point", "clip": true, "opacity": 1, "strokeWidth": 1.2, "filled": false}, "encoding": {"shape": {"condition": [{"test": "datum.m === 'RS'", "value": "square"}, {"test": "datum.m === 'HBS'", "value": "triangle-up"}, {"test": "datum.m === 'SKA'", "value": "triangle-down"}], "value": "circle"}, "size": {"condition": [{"test": "datum.m === 'RACE'", "value": 8}, {"test": "datum.m === 'RS'", "value": 36}], "value": 48}, "color": {"condition": [{"test": "datum.m === 'RS'", "value": "#2c4a7c"}, {"test": "datum.m === 'HBS'", "value": "#5b9bd5"}, {"test": "datum.m === 'SKA'", "value": "#6a4aa8"}], "value": "#ff0000"}, "fill": {"condition": [{"test": "datum.m === 'SKA'", "value": "#6a4aa8"}, {"test": "datum.m === 'RACE'", "value": "#ff0000"}], "value": "transparent"}}},
  {"transform": [{"filter": "datum.p === 'none'"}], "mark": {"type": "point", "filled": false, "opacity": 1, "strokeWidth": 1.5}, "encoding": {
    "color": {"field": "m", "type": "nominal", "scale": {"domain": ["RS","HBS","SKA","RACE"], "range": ["#2c4a7c","#5b9bd5","#6a4aa8","#ff0000"]}, "legend": {"title": null}},
    "shape": {"field": "m", "type": "nominal", "scale": {"domain": ["RS","HBS","SKA","RACE"], "range": ["M-1,0H2.25M0.215,-0.41H1.035V0.41H0.215Z","M-1,0H2.25M0.625,-0.49L1.115,0.36H0.135Z","M-1,0H2.25M0.135,-0.36H1.115L0.625,0.49ZM0.335,-0.23H0.915L0.625,0.26ZM0.515,-0.13H0.735L0.625,0.05Z","M-1,0H2.25M0.855,0A0.23,0.23,0,1,1,0.395,0A0.23,0.23,0,1,1,0.855,0ZM0.705,0A0.08,0.08,0,1,1,0.545,0A0.08,0.08,0,1,1,0.705,0Z"]}, "legend": {"title": null}}
  }}
 ]
},
{
 "width": 441, "height": 328,
 "title": "SA",
 "data": {"name": "d"},
 "transform": [{"filter": "datum.p === 'SA'"}],
 "encoding": {
  "x": {"field": "x", "type": "quantitative", "scale": {"domain": [-1, 20], "nice": false, "zero": false}, "axis": {"values": [0,2.5,5,7.5,10,12.5,15,17.5,20], "format": ".1f", "title": "Sketch Size (KB)"}},
  "y": {"field": "y", "type": "quantitative", "scale": {"type": "log", "domain": [0.00042, 0.55], "nice": false}, "axis": {"title": null, "values": [0.0005,0.0006,0.0007,0.0008,0.0009,0.001,0.002,0.003,0.004,0.005,0.006,0.007,0.008,0.009,0.01,0.02,0.03,0.04,0.05,0.06,0.07,0.08,0.09,0.1,0.2,0.3,0.4,0.5], "labelExpr": "datum.value === 0.1 ? '10⁻¹' : datum.value === 0.01 ? '10⁻²' : datum.value === 0.001 ? '10⁻³' : ''", "tickSize": {"condition": {"test": "datum.value === 0.1 || datum.value === 0.01 || datum.value === 0.001", "value": 3.5}, "value": 2}, "gridOpacity": {"condition": {"test": "datum.value === 0.1 || datum.value === 0.01 || datum.value === 0.001", "value": 1}, "value": 0}}}
 },
 "layer": [
  {"mark": {"type": "line", "strokeWidth": 1.5, "clip": true}, "encoding": {"detail": {"field": "m"}, "color": {"condition": [{"test": "datum.m === 'RS'", "value": "#2c4a7c"}, {"test": "datum.m === 'HBS'", "value": "#5b9bd5"}, {"test": "datum.m === 'SKA'", "value": "#6a4aa8"}], "value": "#ff0000"}}},
  {"mark": {"type": "point", "clip": true, "opacity": 1, "strokeWidth": 1.2, "filled": false}, "encoding": {"shape": {"condition": [{"test": "datum.m === 'RS'", "value": "square"}, {"test": "datum.m === 'HBS'", "value": "triangle-up"}, {"test": "datum.m === 'SKA'", "value": "triangle-down"}], "value": "circle"}, "size": {"condition": [{"test": "datum.m === 'RACE'", "value": 8}, {"test": "datum.m === 'RS'", "value": 36}], "value": 48}, "color": {"condition": [{"test": "datum.m === 'RS'", "value": "#2c4a7c"}, {"test": "datum.m === 'HBS'", "value": "#5b9bd5"}, {"test": "datum.m === 'SKA'", "value": "#6a4aa8"}], "value": "#ff0000"}, "fill": {"condition": [{"test": "datum.m === 'SKA'", "value": "#6a4aa8"}, {"test": "datum.m === 'RACE'", "value": "#ff0000"}], "value": "transparent"}}},
  {"transform": [{"filter": "datum.p === 'none'"}], "mark": {"type": "point", "filled": false, "opacity": 1, "strokeWidth": 1.5}, "encoding": {
    "color": {"field": "m", "type": "nominal", "scale": {"domain": ["RS","HBS","SKA","RACE"], "range": ["#2c4a7c","#5b9bd5","#6a4aa8","#ff0000"]}, "legend": {"title": null}},
    "shape": {"field": "m", "type": "nominal", "scale": {"domain": ["RS","HBS","SKA","RACE"], "range": ["M-1,0H2.25M0.215,-0.41H1.035V0.41H0.215Z","M-1,0H2.25M0.625,-0.49L1.115,0.36H0.135Z","M-1,0H2.25M0.135,-0.36H1.115L0.625,0.49ZM0.335,-0.23H0.915L0.625,0.26ZM0.515,-0.13H0.735L0.625,0.05Z","M-1,0H2.25M0.855,0A0.23,0.23,0,1,1,0.395,0A0.23,0.23,0,1,1,0.855,0ZM0.705,0A0.08,0.08,0,1,1,0.545,0A0.08,0.08,0,1,1,0.705,0Z"]}, "legend": {"title": null}}
  }}
 ]
}
]
}
